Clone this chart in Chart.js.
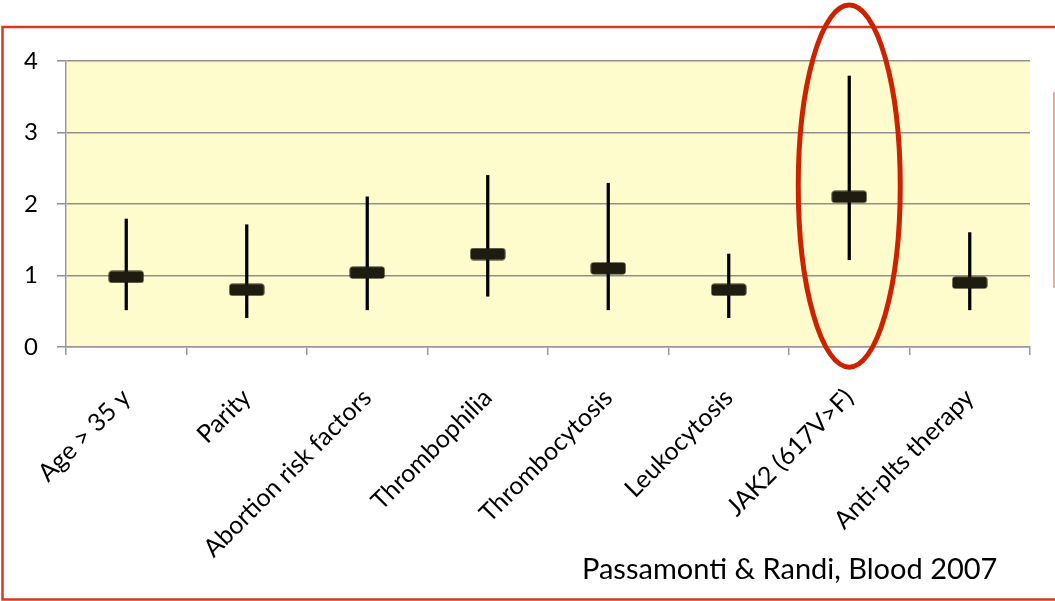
<!DOCTYPE html>
<html><head><meta charset="utf-8">
<script src="https://cdn.jsdelivr.net/npm/chart.js@4/dist/chart.umd.min.js"></script>
<style>html,body{margin:0;padding:0;background:#fff;overflow:hidden}#wrap{width:1055px;height:601px}</style>
</head><body><div id="wrap"><canvas id="c" width="1055" height="601"></canvas></div>
<script>
const categories = ["Age > 35 y","Parity","Abortion risk factors","Thrombophilia","Thrombocytosis","Leukocytosis","JAK2 (617V>F)","Anti-plts therapy"];
const estimates = [0.98,0.80,1.04,1.30,1.10,0.80,2.10,0.90];
const lowerCI = [0.52,0.41,0.52,0.71,0.52,0.41,1.22,0.52];
const upperCI = [1.79,1.71,2.10,2.40,2.29,1.30,3.79,1.60];
const yTicks = [0,1,2,3,4];
const citation = "Passamonti & Randi, Blood 2007";
const highlightIndex = 6;

const FONT = "Lato, 'Open Sans', sans-serif";

function makeMarker(){
  const c=document.createElement('canvas'); c.width=36; c.height=13;
  const g=c.getContext('2d'); g.fillStyle='#1e1c10'; g.beginPath();
  if (g.roundRect) g.roundRect(0.5,0.5,35,12,3); else g.rect(0.5,0.5,35,12);
  g.fill(); return c;
}
const marker = makeMarker();

const decor = {
  id:'decor',
  beforeDraw(chart){
    const {ctx, chartArea:a} = chart;
    ctx.save(); ctx.fillStyle='#fefccc';
    ctx.fillRect(a.left, a.top, a.right-a.left, a.bottom-a.top);
    ctx.restore();
  },
  afterDraw(chart){
    const ctx = chart.ctx;
    ctx.save();
    ctx.strokeStyle='#d8391f'; ctx.lineWidth=2.5;
    ctx.strokeRect(2.5, 27, 1100, 572.5);
    ctx.strokeStyle='#f08c7c'; ctx.lineWidth=1.5;
    ctx.strokeRect(1054, 93, 40, 194);
    const x = chart.scales.x.getPixelForValue(highlightIndex);
    const y = chart.scales.y.getPixelForValue(2.25);
    ctx.strokeStyle='#cc2200'; ctx.lineWidth=5;
    ctx.beginPath(); ctx.ellipse(x, y, 51, 181, 0, 0, Math.PI*2); ctx.stroke();
    ctx.fillStyle='#000'; ctx.font = "29px " + FONT; ctx.textBaseline='alphabetic'; ctx.textAlign='left';
    ctx.fillText(citation, 582, 579);
    ctx.restore();
  }
};

new Chart(document.getElementById('c'), {
  type:'bar',
  data:{
    labels: categories,
    datasets:[
      {type:'line', data: estimates, showLine:false, pointStyle: marker, pointRadius:10, order:1},
      {type:'bar', data: lowerCI.map((l,i)=>[l, upperCI[i]]), backgroundColor:'#000', borderWidth:0, barThickness:2.6, order:2}
    ]
  },
  options:{
    responsive:false, animation:false, devicePixelRatio:1, events:[],
    layout:{padding:{top:61, right:25, left:0, bottom:0}},
    plugins:{legend:{display:false}, tooltip:{enabled:false}},
    scales:{
      x:{
        offset:true,
        grid:{display:true, drawOnChartArea:false, drawTicks:true, tickLength:8, color:'#999', offset:true, lineWidth:1.5},
        border:{display:true, color:'#999', width:1.5},
        ticks:{autoSkip:false, maxRotation:45, minRotation:45, padding:28, color:'#000', font:{family:FONT, size:25}},
        afterFit(s){ s.height = 254; }
      },
      y:{
        min:0, max:4,
        afterBuildTicks(s){ s.ticks = yTicks.map(v=>({value:v})); },
        grid:{color:'#8f8f8f', lineWidth:1.5, tickLength:9},
        border:{display:true, color:'#999', width:1.5},
        ticks:{padding:19, color:'#000', font:{family:FONT, size:24}},
        afterFit(s){ s.width = 66; }
      }
    }
  },
  plugins:[decor]
});
</script></body></html>
